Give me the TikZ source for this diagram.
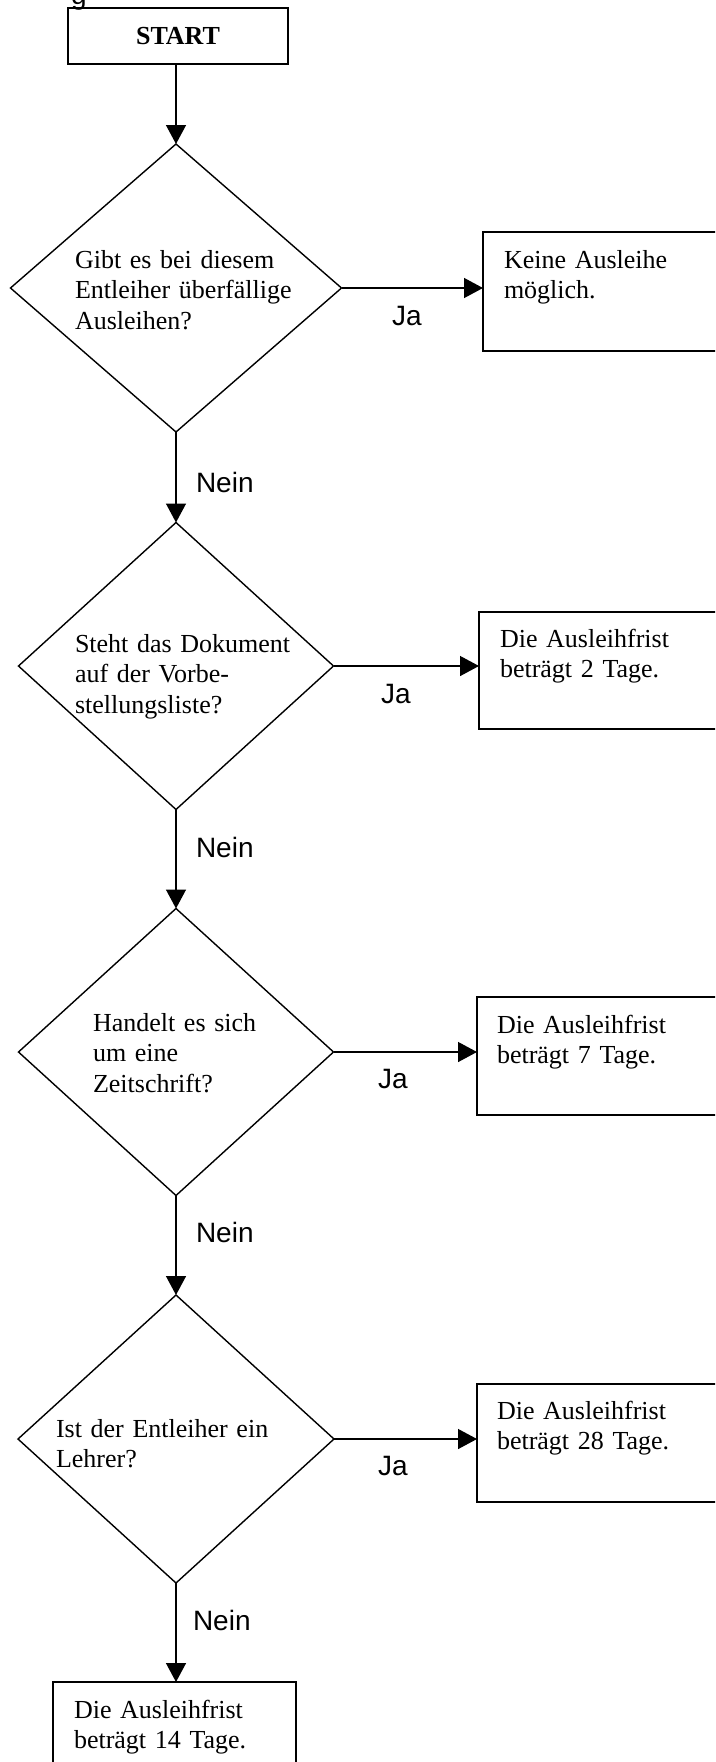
\documentclass[tikz,border=0pt]{standalone}
\usepackage{fontspec}
\setmainfont{Liberation Serif}
\newfontfamily\arialfont{Liberation Sans}
\usetikzlibrary{shapes.geometric,arrows.meta}
\begin{document}
\begin{tikzpicture}[x=1pt,y=-1pt]
\tikzset{
  arr/.style={line width=1.4pt,-{Triangle[length=19pt,width=20pt]}},
  plainline/.style={line width=1.4pt},
  decision/.style={diamond,draw,line width=1.4pt,inner sep=0pt,outer sep=0pt},
  box/.style={rectangle,draw,line width=1.4pt,inner sep=0pt,outer sep=0pt,anchor=north west},
  txt/.style={inner sep=0pt,outer sep=0pt,anchor=base west,align=left,text width=300pt,font=\fontsize{26}{30.5}\selectfont},
  lbl/.style={inner sep=0pt,outer sep=0pt,anchor=base west,font=\arialfont\fontsize{28}{32}\selectfont},
}
\useasboundingbox (0,0) rectangle (715,1762);
\clip (0,0) rectangle (715,1762);

% cut-off glyph at the top edge
\node[lbl] (cut) at (71,4) {g};

% START
\node[box,minimum width=220pt,minimum height=56pt] (start) at (68,8) {};
\node[inner sep=0pt,anchor=base,font=\bfseries\fontsize{26}{30}\selectfont] (starttxt) at (178,44) {START};

% decisions
\node[decision,minimum width=331pt,minimum height=288pt] (d1) at (176,288) {};
\node[decision,minimum width=315pt,minimum height=287pt] (d2) at (176,666) {};
\node[decision,minimum width=315pt,minimum height=287pt] (d3) at (176,1052) {};
\node[decision,minimum width=316pt,minimum height=288pt] (d4) at (176,1439) {};

\node[txt] (t1) at (75,268) {Gibt es bei diesem\\Entleiher überfällige\\Ausleihen?};
\node[txt] (t2) at (75,652) {Steht das Dokument\\auf der Vorbe-\\stellungsliste?};
\node[txt] (t3) at (93,1031) {Handelt es sich\\um eine\\Zeitschrift?};
\node[txt] (t4) at (56,1437) {Ist der Entleiher ein\\Lehrer?};

% result boxes
\node[box,minimum width=260pt,minimum height=119pt] (b1) at (483,232) {};
\node[box,minimum width=260pt,minimum height=117pt] (b2) at (479,612) {};
\node[box,minimum width=260pt,minimum height=118pt] (b3) at (477,997) {};
\node[box,minimum width=260pt,minimum height=118pt] (b4) at (477,1384) {};
\node[box,minimum width=243pt,minimum height=110pt] (b5) at (53,1682) {};

\node[txt] (r1) at (504,268) {Keine Ausleihe\\möglich.};
\node[txt] (r2) at (500,647) {Die Ausleihfrist\\beträgt 2 Tage.};
\node[txt] (r3) at (497,1033) {Die Ausleihfrist\\beträgt 7 Tage.};
\node[txt] (r4) at (497,1419) {Die Ausleihfrist\\beträgt 28 Tage.};
\node[txt] (r5) at (74,1718) {Die Ausleihfrist\\beträgt 14 Tage.};

% connectors
\draw[arr] (d1.north |- start.south) -- (d1.north);
\draw[arr] (d1.east) -- (d1.east -| b1.west);
\draw[arr] (d2.east) -- (d2.east -| b2.west);
\draw[arr] (d3.east) -- (d3.east -| b3.west);
\draw[arr] (d4.east) -- (d4.east -| b4.west);
\draw[arr] (d1.south) -- (d2.north);
\draw[arr] (d2.south) -- (d3.north);
\draw[arr] (d3.south) -- (d4.north);
\draw[arr] (d4.south) -- (d4.south |- b5.north);

% labels
\node[lbl] (ja1) at (392,325) {Ja};
\node[lbl] (ja2) at (381,703) {Ja};
\node[lbl] (ja3) at (378,1088) {Ja};
\node[lbl] (ja4) at (378,1475) {Ja};
\node[lbl] (n1) at (196,492) {Nein};
\node[lbl] (n2) at (196,857) {Nein};
\node[lbl] (n3) at (196,1242) {Nein};
\node[lbl] (n4) at (193,1630) {Nein};
\end{tikzpicture}
\end{document}
